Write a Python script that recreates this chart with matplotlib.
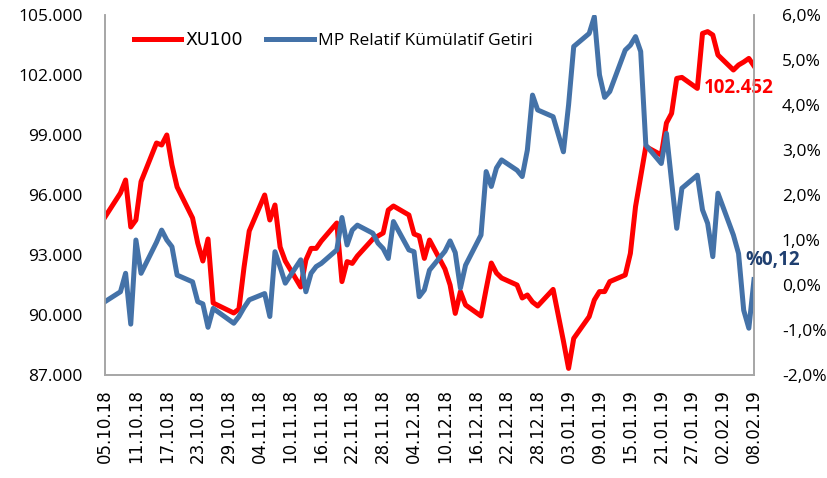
import pandas as pd
import matplotlib.pyplot as plt
import matplotlib.dates as mdates
from matplotlib.ticker import FuncFormatter

# trading days (dd.mm.yy)
dates = ['05.10.18', '08.10.18', '09.10.18', '10.10.18', '11.10.18', '12.10.18', '15.10.18', '16.10.18', '17.10.18',
         '18.10.18', '19.10.18', '22.10.18', '23.10.18', '24.10.18', '25.10.18', '26.10.18', '30.10.18', '31.10.18',
         '01.11.18', '02.11.18', '05.11.18', '06.11.18', '07.11.18', '08.11.18', '09.11.18', '12.11.18', '13.11.18',
         '14.11.18', '15.11.18', '16.11.18', '19.11.18', '20.11.18', '21.11.18', '22.11.18', '23.11.18', '26.11.18',
         '27.11.18', '28.11.18', '29.11.18', '30.11.18',
         '03.12.18', '04.12.18', '05.12.18', '06.12.18', '07.12.18', '10.12.18', '11.12.18', '12.12.18', '13.12.18',
         '14.12.18', '17.12.18', '18.12.18', '19.12.18', '20.12.18', '21.12.18', '24.12.18', '25.12.18', '26.12.18',
         '27.12.18', '28.12.18', '31.12.18',
         '02.01.19', '03.01.19', '04.01.19', '07.01.19', '08.01.19', '09.01.19', '10.01.19', '11.01.19', '14.01.19',
         '15.01.19', '16.01.19', '17.01.19', '18.01.19', '21.01.19', '22.01.19', '23.01.19', '24.01.19', '25.01.19',
         '28.01.19', '29.01.19', '30.01.19', '31.01.19',
         '01.02.19', '04.02.19', '05.02.19', '06.02.19', '07.02.19', '08.02.19']

xu100 = [94900, 96100, 96750, 94400, 94750, 96670, 98600, 98500, 99000, 97500, 96400, 94850, 93600, 92700, 93800,
         90600, 90100, 90300,
         92400, 94200, 96000, 94750, 95500, 93400, 92700, 91400, 92750, 93330, 93330, 93700, 94600, 91670, 92670,
         92580, 92950, 93800, 93950, 94100, 95250, 95450,
         95000, 94050, 93950, 92830, 93750, 92300, 91500, 90080, 91170, 90500, 89950, 91300, 92600, 92100, 91850,
         91500, 90850, 91000, 90650, 90450, 91280,
         88700, 87330, 88830, 89920, 90750, 91170, 91170, 91670, 92000, 93080, 95420, 96920, 98420, 98000, 99600,
         100080, 101830, 101880, 101330, 104080, 104170, 104000,
         103000, 102250, 102500, 102650, 102830, 102452]

mp_rel = [-0.37, -0.15, 0.26, -0.87, 1.00, 0.26, 0.95, 1.22, 1.00, 0.85, 0.22, 0.07, -0.37, -0.42, -0.94, -0.52,
          -0.85, -0.70,
          -0.50, -0.33, -0.19, -0.70, 0.74, 0.40, 0.04, 0.56, -0.15, 0.26, 0.41, 0.48, 0.78, 1.50, 0.89, 1.22, 1.33,
          1.15, 0.93, 0.81, 0.59, 1.41,
          0.78, 0.74, -0.26, -0.11, 0.33, 0.75, 0.98, 0.72, -0.07, 0.44, 1.11, 2.52, 2.19, 2.60, 2.78, 2.55, 2.41,
          3.00, 4.22, 3.89, 3.74,
          2.96, 4.00, 5.30, 5.59, 5.96, 4.67, 4.17, 4.30, 5.22, 5.33, 5.52, 5.19, 3.11, 2.70, 3.37, 2.30, 1.26, 2.15,
          2.44, 1.67, 1.37, 0.63,
          2.04, 1.11, 0.70, -0.56, -0.96, 0.12]

tick_labels = ['05.10.18', '11.10.18', '17.10.18', '23.10.18', '29.10.18', '04.11.18', '10.11.18', '16.11.18',
               '22.11.18', '28.11.18', '04.12.18', '10.12.18', '16.12.18', '22.12.18', '28.12.18', '03.01.19',
               '09.01.19', '15.01.19', '21.01.19', '27.01.19', '02.02.19', '08.02.19']

red = '#FF0000'
blue = '#4472A8'
grey = '#A6A6A6'
lab_font = 'Open Sans'

x = pd.to_datetime(dates, format='%d.%m.%y')
ticks = pd.to_datetime(tick_labels, format='%d.%m.%y')

fig = plt.figure(figsize=(8.28, 4.78), dpi=100)
ax = fig.add_axes([105 / 828, 103 / 478, 649 / 828, 360 / 478])
ax2 = ax.twinx()

l1, = ax.plot(x, xu100, color=red, lw=3.6, solid_joinstyle='round', label='XU100')
l2, = ax2.plot(x, mp_rel, color=blue, lw=3.6, solid_joinstyle='round', label='MP Relatif Kümülatif Getiri')

ax.set_xlim(x[0], x[-1])
ax.set_ylim(87000, 105000)
ax2.set_ylim(-2, 6)
ax.set_yticks(range(87000, 105001, 3000))
ax2.set_yticks(range(-2, 7))
ax.yaxis.set_major_formatter(FuncFormatter(lambda v, p: f'{v:,.0f}'.replace(',', '.')))
ax2.yaxis.set_major_formatter(FuncFormatter(lambda v, p: f'{v:.1f}%'.replace('.', ',')))

ax.set_xticks(ticks)
ax.xaxis.set_major_formatter(mdates.DateFormatter('%d.%m.%y'))

for a in (ax, ax2):
    a.tick_params(length=0, labelsize=12.5)
    a.spines['top'].set_visible(False)
    for s in ('left', 'right', 'bottom'):
        a.spines[s].set_color(grey)
        a.spines[s].set_linewidth(1.2)
ax.tick_params(axis='x', pad=10, labelsize=12, labelrotation=90)
ax.tick_params(axis='y', pad=16)
ax2.tick_params(axis='y', pad=20)
for t in ax.get_xticklabels():
    t.set_family('DejaVu Sans')
for t in ax.get_yticklabels() + ax2.get_yticklabels():
    t.set_family(lab_font)

leg = ax.legend(handles=[l1, l2], loc='upper left', bbox_to_anchor=(0.02, 1.0), ncol=2, frameon=False,
                handlelength=2.75, handletextpad=0.25, columnspacing=1.3, fontsize=12.5)
leg.get_texts()[0].set_family('DejaVu Sans')
leg.get_texts()[1].set_family(lab_font)

ax.annotate('102.452', xy=(x[-1], xu100[-1]), xytext=(-36, -16), textcoords='offset points',
            ha='left', va='center', color=red, fontsize=13.5, fontweight='bold', family=lab_font,
            annotation_clip=False)
ax2.annotate('%0,12', xy=(x[-1], mp_rel[-1]), xytext=(-6, 14), textcoords='offset points',
             ha='left', va='center', color='#1F3F70', fontsize=13.5, fontweight='bold', family=lab_font,
             annotation_clip=False)

fig.savefig('out.png', dpi=100)
